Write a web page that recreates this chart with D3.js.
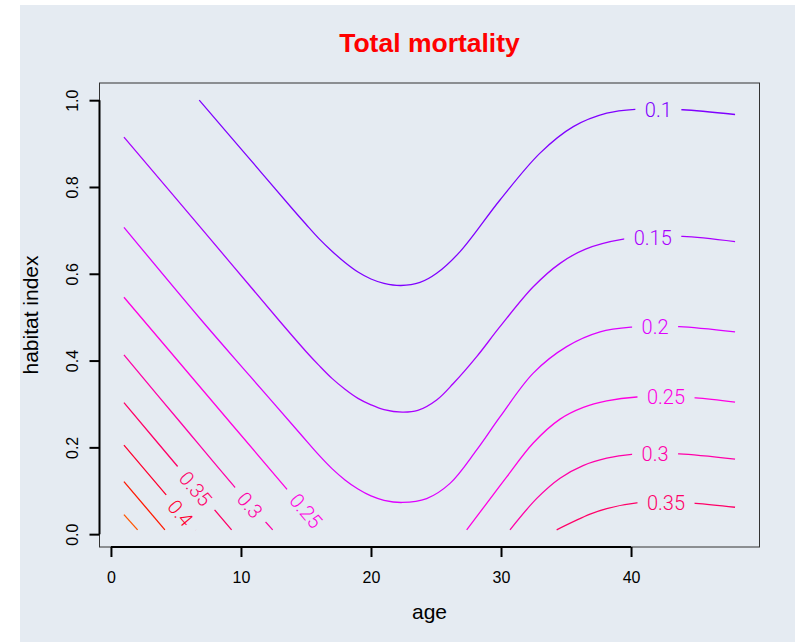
<!DOCTYPE html>
<html><head><meta charset="utf-8">
<script src="https://cdn.jsdelivr.net/npm/d3@7"></script>
<style>body{margin:0;background:#fff}</style>
</head><body>
<script>
// ---- data (age, habitat index) ----
const levels = [0.1, 0.15, 0.2, 0.25, 0.3, 0.35, 0.4, 0.45, 0.5];
const levelColors = ["#8000FF", "#AA00FF", "#DD00FF", "#FF00E2", "#FF00A8", "#FF0068", "#FF0030", "#FF1800", "#FF5500"];
const xTicks = [0, 10, 20, 30, 40];
const yTicks = [0.0, 0.2, 0.4, 0.6, 0.8, 1.0];
const ageRange = [1, 48];
const habRange = [0.01, 1.0];

const line010 = [[6.79,1.0],[10.4,0.874],[14,0.748],[15,0.714],[16,0.681],[17,0.652],[18,0.626],[19,0.604],[20,0.588],[21,0.578],[22.3,0.573],[23.77,0.580],[25.05,0.601],[26.85,0.651],[29.92,0.770],[33.0,0.878],[35.56,0.939],[38.13,0.970],[40.31,0.979],[42.1,0.979],[43.98,0.978],[48,0.967]];
const line015 = [[1,0.915],[7,0.703],[13,0.490],[15,0.421],[16,0.389],[17,0.359],[18,0.334],[19,0.313],[20,0.298],[21,0.287],[22.4,0.281],[23.6,0.285],[25.05,0.309],[26.33,0.347],[28.13,0.409],[29.92,0.478],[32.48,0.570],[34.54,0.624],[36.5,0.657],[39.41,0.680],[41.67,0.685],[43.98,0.686],[48,0.674]];
const line020 = [[1,0.707],[6.85,0.497],[10.7,0.364],[14.54,0.232],[16,0.182],[17,0.151],[18,0.125],[19,0.104],[20,0.088],[21,0.078],[22.4,0.073],[24.28,0.082],[26.08,0.117],[28.13,0.194],[29.92,0.270],[32.48,0.371],[35.05,0.432],[37.62,0.466],[40.05,0.477],[41.85,0.478],[43.72,0.478],[48,0.466]];
const line025a = [[1,0.546],[7.2,0.327],[13.38,0.109],[16.23,0.010]];
const line025b = [[27.36,0.010],[28.90,0.071],[30.44,0.132],[32.48,0.210],[34.54,0.265],[36.33,0.292],[38.13,0.307],[40.44,0.316],[42.69,0.316],[44.98,0.314],[48,0.304]];
const line030a = [[1,0.413],[5.3,0.259],[9.62,0.105],[12.44,0.010]];
const line030b = [[30.69,0.010],[32.77,0.083],[34.54,0.129],[36.31,0.158],[38.13,0.175],[40.05,0.184],[41.85,0.185],[43.72,0.185],[48,0.173]];
const line035a = [[1,0.303],[5.10,0.157],[9.28,0.010]];
const line035b = [[34.28,0.010],[36.85,0.046],[38.13,0.059],[40.44,0.072],[42.69,0.074],[44.98,0.071],[48,0.062]];
const line040 = [[1,0.205],[4.15,0.094],[6.52,0.010]];
const line045 = [[1,0.121],[4.15,0.010]];
const line050 = [[1,0.045],[2.05,0.010]];

const contourLines = [
  [0.1, line010], [0.15, line015], [0.2, line020],
  [0.25, line025a], [0.25, line025b], [0.3, line030a], [0.3, line030b],
  [0.35, line035a], [0.35, line035b], [0.4, line040], [0.45, line045], [0.5, line050]
];
// label anchor points (age, habitat)
const labelLevels = [0.1, 0.15, 0.2, 0.25, 0.3, 0.35, 0.25, 0.3, 0.35, 0.4];
const labelAges   = [42.1, 41.67, 41.85, 42.69, 41.85, 42.69, 15.0, 10.69, 6.51, 5.35];
const labelHabs   = [0.979, 0.684, 0.478, 0.316, 0.185, 0.073, 0.054, 0.067, 0.105, 0.049];

// ---- layout ----
const W = 795, H = 642;
const plot = {left: 99.5, right: 759.5, top: 83, bottom: 547};
const pad = (r) => { const d = (r[1]-r[0])*0.04; return [r[0]-d, r[1]+d]; };
const x = d3.scaleLinear().domain(pad(ageRange)).range([plot.left, plot.right]);
const y = d3.scaleLinear().domain(pad(habRange)).range([plot.bottom, plot.top]);
const colorOf = d3.scaleOrdinal().domain(levels).range(levelColors);

const svg = d3.select("body").append("svg").attr("width", W).attr("height", H);
svg.append("rect").attr("width", W).attr("height", H).attr("fill", "#fff");
svg.append("rect").attr("x", 20).attr("y", 5).attr("width", W-20).attr("height", H-5).attr("fill", "#E5EBF2");
const defs = svg.append("defs");
const lineLayer = svg.append("g");

// title
svg.append("text").attr("x", (plot.left+plot.right)/2).attr("y", 52)
  .attr("text-anchor", "middle").attr("font-family", "Liberation Sans, Arial, sans-serif")
  .attr("font-weight", "bold").attr("font-size", 26.5).attr("fill", "#FF0000").text("Total mortality");

// box
svg.append("rect").attr("x", plot.left).attr("y", plot.top)
  .attr("width", plot.right-plot.left).attr("height", plot.bottom-plot.top)
  .attr("fill", "none").attr("stroke", "#333").attr("stroke-width", 1);

// labels: measure & angle along the contour
const labelG = svg.append("g");
const labels = labelLevels.map((lv, i) => {
  const px = x(labelAges[i]), py = y(labelHabs[i]);
  let best = null, bd = Infinity;
  contourLines.filter(c => c[0] === lv).forEach(c => {
    const pts = c[1];
    for (let k = 0; k < pts.length-1; k++) {
      const a = pts[k], b = pts[k+1];
      if (labelAges[i] >= a[0]-0.01 && labelAges[i] <= b[0]+0.01) {
        const mid = Math.abs(y((a[1]+b[1])/2) - py);
        if (mid < bd) { bd = mid; best = [pts, k]; }
      }
    }
  });
  let ang = 0;
  if (best) {
    const [pts, k] = best;
    const a = pts[Math.max(0, k-1)], b = pts[Math.min(pts.length-1, k+2)];
    ang = Math.atan2(y(b[1]) - y(a[1]), x(b[0]) - x(a[0])) * 180 / Math.PI;
    if (Math.abs(ang) < 4) ang = 0;
  }
  const t = labelG.append("text")
    .attr("transform", `translate(${px},${py}) rotate(${ang})`)
    .attr("text-anchor", "middle").attr("dy", "0.36em")
    .attr("font-family", "Roboto, sans-serif").attr("font-weight", 300)
    .attr("font-size", 20).attr("fill", colorOf(lv)).text(String(lv));
  const w = t.node().getComputedTextLength();
  return {lv, px, py, ang, w};
});

// masks per level (gaps where labels sit)
levels.forEach((lv, i) => {
  const m = defs.append("mask").attr("id", "m" + i).attr("maskUnits", "userSpaceOnUse")
    .attr("x", 0).attr("y", 0).attr("width", W).attr("height", H);
  m.append("rect").attr("width", W).attr("height", H).attr("fill", "#fff");
  labels.filter(l => l.lv === lv).forEach(l => {
    const gw = l.w + 19, gh = 22;
    m.append("rect").attr("x", -gw/2).attr("y", -gh/2).attr("width", gw).attr("height", gh)
      .attr("transform", `translate(${l.px},${l.py}) rotate(${l.ang})`).attr("fill", "#000");
  });
});

const lineGen = d3.line().x(d => x(d[0])).y(d => y(d[1])).curve(d3.curveCatmullRom.alpha(0.5));
lineLayer.selectAll("path").data(contourLines).join("path")
  .attr("d", d => lineGen(d[1]))
  .attr("fill", "none").attr("stroke", d => colorOf(d[0])).attr("stroke-width", 1.3)
  .attr("mask", d => `url(#m${levels.indexOf(d[0])})`);

// axes
const axFont = "Liberation Sans, Arial, sans-serif";
const gx = svg.append("g").attr("transform", `translate(0,${plot.bottom})`)
  .call(d3.axisBottom(x).tickValues(xTicks).tickSize(10).tickFormat(d3.format("d")));
gx.select(".domain").remove();
gx.selectAll("line").attr("stroke", "#000").attr("stroke-width", 2);
gx.selectAll("text").attr("y", 36).attr("dy", 0).attr("font-size", 16).attr("font-family", axFont).attr("fill", "#000");
gx.append("line").attr("x1", x(xTicks[0])).attr("x2", x(xTicks[xTicks.length-1]))
  .attr("stroke", "#000").attr("stroke-width", 2);

const gy = svg.append("g").attr("transform", `translate(${plot.left},0)`)
  .call(d3.axisLeft(y).tickValues(yTicks).tickSize(10).tickFormat(d3.format(".1f")));
gy.select(".domain").remove();
gy.selectAll("line").attr("stroke", "#000").attr("stroke-width", 2);
gy.selectAll("text").attr("x", null).attr("dy", 0).attr("text-anchor", "middle")
  .attr("transform", "translate(-21.5,0) rotate(-90)")
  .attr("font-size", 16).attr("font-family", axFont).attr("fill", "#000");
gy.append("line").attr("y1", y(yTicks[0])).attr("y2", y(yTicks[yTicks.length-1]))
  .attr("stroke", "#000").attr("stroke-width", 2);

// axis titles
svg.append("text").attr("x", (plot.left+plot.right)/2).attr("y", 619)
  .attr("text-anchor", "middle").attr("font-family", axFont).attr("font-size", 21).attr("fill", "#000").text("age");
svg.append("text").attr("transform", `translate(37.5,${(plot.top+plot.bottom)/2}) rotate(-90)`)
  .attr("text-anchor", "middle").attr("font-family", axFont).attr("font-size", 21).attr("fill", "#000").text("habitat index");
</script>
</body></html>
